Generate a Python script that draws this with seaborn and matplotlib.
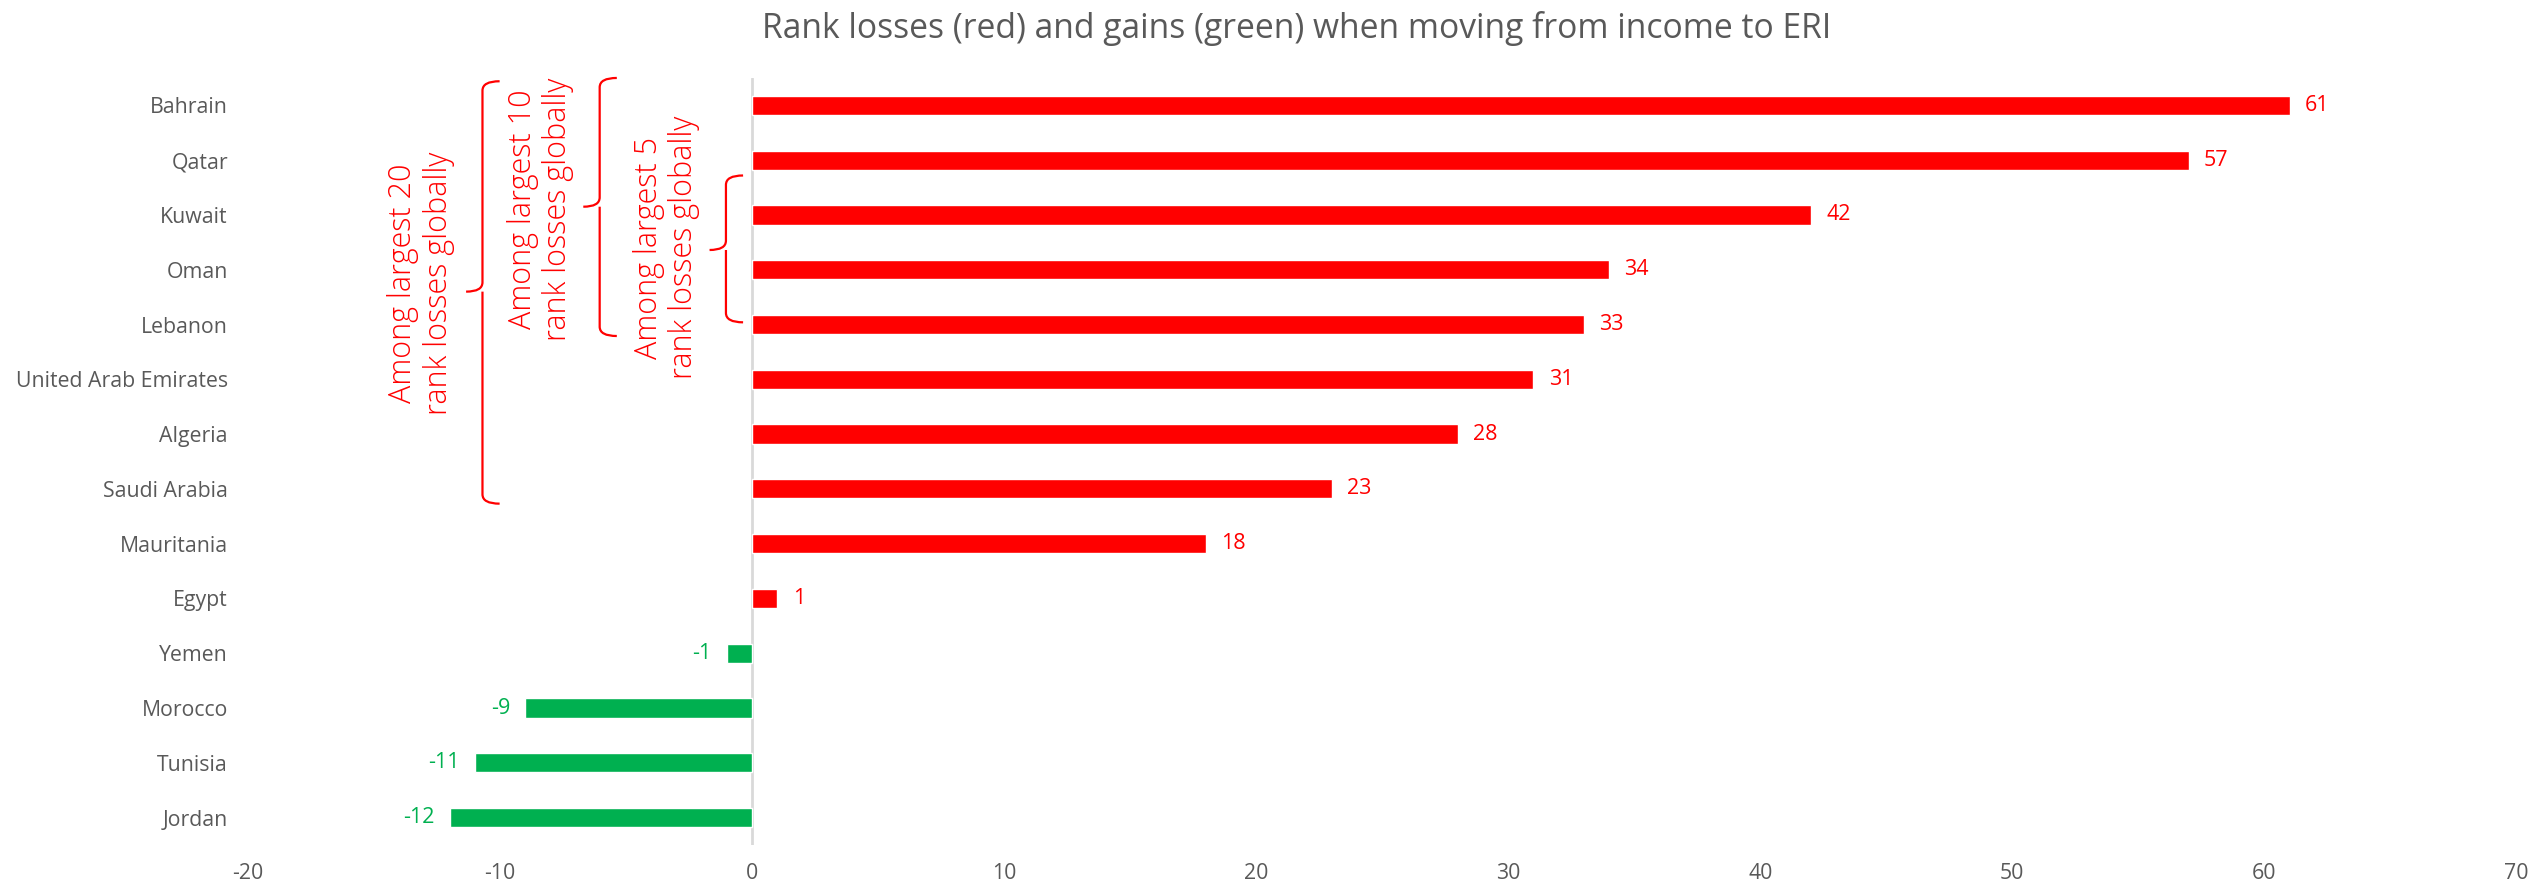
import matplotlib
matplotlib.use("Agg")
import matplotlib.pyplot as plt
from matplotlib.path import Path
from matplotlib.patches import PathPatch
import seaborn as sns
import pandas as pd

# Country rank changes when moving from income to ERI
countries = ["Bahrain", "Qatar", "Kuwait", "Oman", "Lebanon", "United Arab Emirates",
             "Algeria", "Saudi Arabia", "Mauritania", "Egypt", "Yemen", "Morocco",
             "Tunisia", "Jordan"]
rank_change = [61, 57, 42, 34, 33, 31, 28, 23, 18, 1, -1, -9, -11, -12]
x_ticks = [-20, -10, 0, 10, 20, 30, 40, 50, 60, 70]

RED = "#FF0000"
GREEN = "#00B050"
GREY = "#595959"

df = pd.DataFrame({"country": countries, "change": rank_change})
df["kind"] = ["loss" if v > 0 else "gain" for v in df["change"]]

sns.set_theme(style="white")
plt.rcParams["font.family"] = ["Open Sans", "DejaVu Sans"]

fig = plt.figure(figsize=(25.47, 8.94), dpi=100)
ax = fig.add_axes([0.0974, 0.0548, 0.8906, 0.858])

sns.barplot(data=df, x="change", y="country", hue="kind", orient="h",
            palette={"loss": RED, "gain": GREEN}, dodge=False, width=0.35,
            legend=False, ax=ax, saturation=1)

ax.set_xlim(x_ticks[0], x_ticks[-1])
ax.set_ylim(len(countries) - 0.5, -0.5)
ax.set_xticks(x_ticks)
ax.set_xticklabels([str(t) for t in x_ticks])
ax.set_xlabel("")
ax.set_ylabel("")
for s in ax.spines.values():
    s.set_visible(False)
ax.axvline(0, color="#D9D9D9", lw=2, zorder=0)
ax.tick_params(axis="both", length=0, labelsize=15.3, colors=GREY)
ax.tick_params(axis="y", pad=14.5)
ax.tick_params(axis="x", pad=13)

# value labels at bar ends
for i, v in enumerate(rank_change):
    if v > 0:
        ax.annotate(str(v), (v, i), xytext=(11, 0), textcoords="offset points",
                    ha="left", va="center", color=RED, fontsize=15.5)
    else:
        ax.annotate(str(v), (v, i), xytext=(-11, 0), textcoords="offset points",
                    ha="right", va="center", color=GREEN, fontsize=15.5)

fig.suptitle("Rank losses (red) and gains (green) when moving from income to ERI",
             x=0.509, y=0.988, va="top", fontsize=24.2, color=GREY)


def brace(ax, x, y0, y1, ymid, hook=0.68, tip=0.65, r=0.17):
    """Left-facing curly brace from y0 (top) to y1 (bottom) with cusp at ymid."""
    verts = [
        (x + hook, y0), (x, y0), (x, y0 + r),
        (x, ymid - r), (x, ymid), (x - tip, ymid),
        (x, ymid), (x, ymid + r),
        (x, y1 - r), (x, y1), (x + hook, y1),
    ]
    codes = [Path.MOVETO, Path.CURVE3, Path.CURVE3,
             Path.LINETO, Path.CURVE3, Path.CURVE3,
             Path.MOVETO, Path.CURVE3,
             Path.LINETO, Path.CURVE3, Path.CURVE3]
    ax.add_patch(PathPatch(Path(verts, codes), fill=False, ec=RED, lw=1.6,
                           clip_on=False))


brace_labels = ["Among largest 20\nrank losses globally",
                "Among largest 10\nrank losses globally",
                "Among largest 5\nrank losses globally"]
# (x of brace, top, bottom, cusp, x of text, y of text)
brace_geom = [(-10.7, -0.44, 7.27, 3.4, -13.15, 3.25),
              (-6.05, -0.5, 4.21, 1.85, -8.4, 1.9),
              (-1.04, 1.28, 3.96, 2.64, -3.4, 2.6)]
for label, (bx, y0, y1, ym, tx, ty) in zip(brace_labels, brace_geom):
    brace(ax, bx, y0, y1, ym)
    ax.text(tx, ty, label, rotation=90, ha="center", va="center", color=RED,
            fontsize=22, fontweight="light", linespacing=1.15,
            multialignment="center")

fig.savefig("out.png", dpi=100)
